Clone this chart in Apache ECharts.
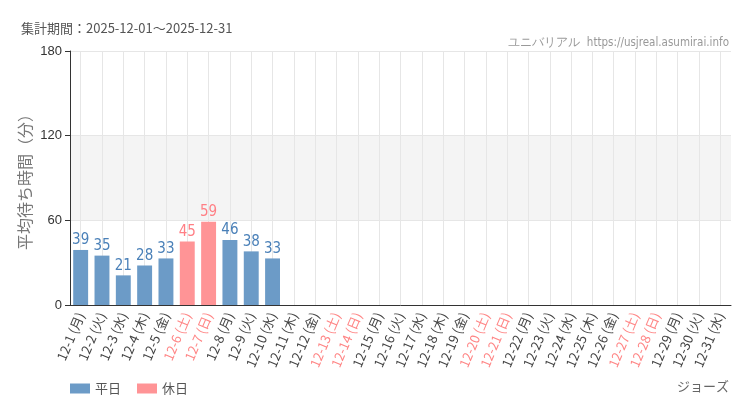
<!DOCTYPE html>
<html><head><meta charset="utf-8">
<script src="https://cdn.jsdelivr.net/npm/echarts@6/dist/echarts.min.js"></script>
<style>html,body{margin:0;padding:0;background:#fff}#c{width:750px;height:410px}</style>
</head><body><div id="c"></div>
<script>
const categories = ['12-1 (月)','12-2 (火)','12-3 (水)','12-4 (木)','12-5 (金)','12-6 (土)','12-7 (日)','12-8 (月)','12-9 (火)','12-10 (水)','12-11 (木)','12-12 (金)','12-13 (土)','12-14 (日)','12-15 (月)','12-16 (火)','12-17 (水)','12-18 (木)','12-19 (金)','12-20 (土)','12-21 (日)','12-22 (月)','12-23 (火)','12-24 (水)','12-25 (木)','12-26 (金)','12-27 (土)','12-28 (日)','12-29 (月)','12-30 (火)','12-31 (水)'];
const weekdayValues = [39,35,21,28,33,null,null,46,38,33,null,null,null,null,null,null,null,null,null,null,null,null,null,null,null,null,null,null,null,null,null];
const holidayValues = [null,null,null,null,null,45,59,null,null,null,null,null,null,null,null,null,null,null,null,null,null,null,null,null,null,null,null,null,null,null,null];
const yTicks = [0,60,120,180];

const isHoliday = s => /[土日]/.test(s);
const chart = echarts.init(document.getElementById('c'));
const jp = "'Noto Sans CJK JP',sans-serif";
const condensed = "'Liberation Sans Narrow','DejaVu Sans Condensed','Roboto Condensed','Noto Sans',sans-serif";
chart.setOption({
  animation:false,
  backgroundColor:'#ffffff',
  title:[
    {text:'集計期間：2025-12-01～2025-12-31',left:16,top:17,textStyle:{fontSize:13,fontWeight:'normal',color:'#555',fontFamily:jp}},
    {text:'ユニバリアル  https://usjreal.asumirai.info',right:16,top:32,textStyle:{fontSize:11.5,fontWeight:'normal',color:'#999',fontFamily:condensed}},
    {text:'ジョーズ',right:16,top:375,textStyle:{fontSize:13,fontWeight:'normal',color:'#666',fontFamily:jp}}
  ],
  legend:{left:65,top:377,itemWidth:20,itemHeight:10,itemGap:16,icon:'rect',
    textStyle:{fontSize:13,color:'#555',fontFamily:jp},
    data:['平日','休日']},
  grid:{left:70,right:19,top:51,bottom:105},
  xAxis:{type:'category',data:categories,
    axisLine:{lineStyle:{color:'#333'}},
    axisTick:{alignWithLabel:true,length:5,lineStyle:{color:'#333'}},
    splitLine:{show:true,alignWithLabel:true,lineStyle:{color:'#e6e6e6'}},
    axisLabel:{interval:0,rotate:67,margin:8,fontSize:13,fontFamily:jp,
      formatter:v=>isHoliday(v)?'{h|'+v+'}':'{w|'+v+'}',
      rich:{w:{color:'#444',fontSize:13,fontFamily:jp},h:{color:'#ff8585',fontSize:13,fontFamily:jp}}}
  },
  yAxis:{type:'value',min:0,max:180,interval:60,
    name:'平均待ち時間（分）',nameLocation:'middle',nameGap:37,nameMoveOverlap:false,
    nameTextStyle:{fontSize:16,color:'#777',fontFamily:jp},
    axisLine:{show:true,lineStyle:{color:'#333'}},
    axisTick:{show:true,length:5,lineStyle:{color:'#333'}},
    axisLabel:{fontSize:13,color:'#333',margin:8,formatter:v=>yTicks.includes(v)?String(v):''},
    splitLine:{lineStyle:{color:'#e6e6e6'}},
    splitArea:{show:true,areaStyle:{color:['rgba(0,0,0,0)','#f4f4f4']}}
  },
  series:[
    {name:'平日',type:'bar',stack:'a',data:weekdayValues,barWidth:'70%',
      itemStyle:{color:'#6c9bc7'},
      label:{show:true,position:'top',distance:2,color:'#4a80b8',fontSize:15,fontFamily:condensed}},
    {name:'休日',type:'bar',stack:'a',data:holidayValues,barWidth:'70%',
      itemStyle:{color:'#ff9496'},
      label:{show:true,position:'top',distance:2,color:'#ff7f85',fontSize:15,fontFamily:condensed}}
  ]
});
</script></body></html>
